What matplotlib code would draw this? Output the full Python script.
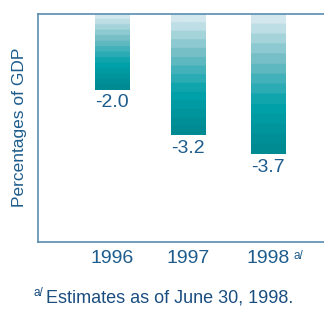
import matplotlib
matplotlib.use("Agg")
from matplotlib import pyplot as plt
from matplotlib.colors import LinearSegmentedColormap
import numpy as np

years = ['1996', '1997', '1998']
values = [-2.0, -3.2, -3.7]
labels = ['-2.0', '-3.2', '-3.7']

plt.rcParams['font.family'] = ['Liberation Sans', 'DejaVu Sans']

frame_col = '#5a8db0'
text_col = '#1d5c8c'
cmap = LinearSegmentedColormap.from_list('teal', ['#d3e8ee', '#6fbcc4', '#00a2aa', '#008a92'])

fig = plt.figure(figsize=(3.24, 3.10), dpi=100)
ax = fig.add_axes([38 / 324, 1 - 242 / 310, 1 - 38 / 324, (242 - 13.5) / 310])

x = np.array([0, 0.98, 2.0])
width = 0.44
bars = ax.bar(x, values, width=width, color='none', edgecolor='none')

# banded gradient per bar
for b, v in zip(bars, values):
    n = 14
    grad = np.floor(np.linspace(0, 0.999, 200) * n) / (n - 1)
    grad = grad.reshape(-1, 1)
    ax.imshow(grad, cmap=cmap, aspect='auto', origin='upper',
              extent=[b.get_x(), b.get_x() + width, v, 0], zorder=2)

for xi, v, lab in zip(x, values, labels):
    ax.text(xi, v - 0.12, lab, ha='center', va='top', fontsize=14, color=text_col)

ax.set_xlim(-0.95, 2.72)
ax.set_ylim(-6, 0)
ax.set_xticks(x)
ax.set_xticklabels(years, fontsize=14, color=text_col)
ax.tick_params(length=0, pad=6)
ax.set_yticks([])
ax.set_ylabel('Percentages of GDP', fontsize=12.5, color=text_col, labelpad=8)

for s in ['left', 'top', 'bottom']:
    ax.spines[s].set_color(frame_col)
    ax.spines[s].set_linewidth(1.2)
ax.spines['right'].set_visible(False)

fig.text(293 / 324, 1 - 256 / 310, 'a/', fontsize=8.5, color=text_col, ha='left', va='center')
fig.text(34 / 324, 1 - 293 / 310, 'a/', fontsize=8.5, color='#1a4d80', ha='left', va='center')
fig.text(46 / 324, 1 - 298 / 310, 'Estimates as of June 30, 1998.', fontsize=13,
         color='#1a4d80', ha='left', va='center')

plt.savefig('out.png', dpi=100)
